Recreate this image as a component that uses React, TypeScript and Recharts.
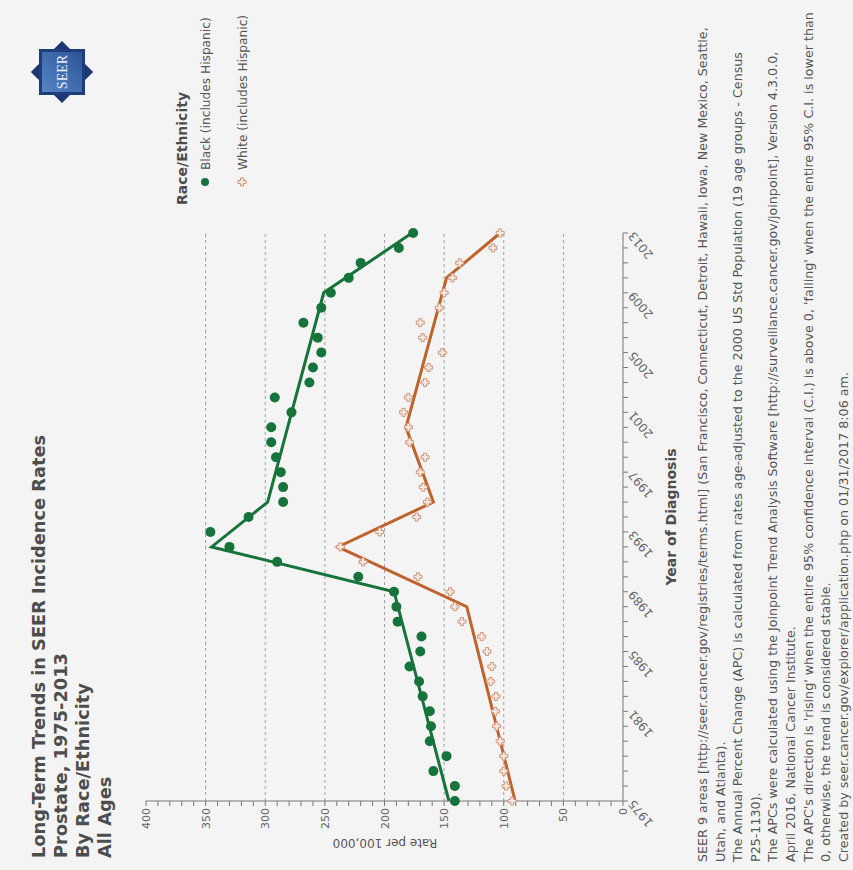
import React from 'react';
import { ComposedChart, Line, XAxis, YAxis, ReferenceLine } from 'recharts';

// Year of diagnosis, one entry per observed rate
const years = [
  1975, 1976, 1977, 1978, 1979, 1980, 1981, 1982, 1983, 1984,
  1985, 1986, 1987, 1988, 1989, 1990, 1991, 1992, 1993, 1994,
  1995, 1996, 1997, 1998, 1999, 2000, 2001, 2002, 2003, 2004,
  2005, 2006, 2007, 2008, 2009, 2010, 2011, 2012, 2013,
];

// Observed rates per 100,000
const blackRates = [
  141, 141, 159, 148, 162, 161, 162, 168, 171, 179,
  170, 169, 189, 190, 192, 222, 290, 330, 346, 314,
  285, 285, 287, 291, 295, 295, 278, 292, 263, 260,
  253, 256, 268, 253, 245, 230, 220, 188, 176,
];
const whiteRates = [
  93, 98, 100, 100, 103, 106, 107, 106.5, 111, 110,
  114, 118.5, 135, 141, 145, 172, 218, 237, 204, 173,
  164, 167.5, 170, 166, 179, 180, 184, 180, 166, 163,
  151.5, 168, 170, 154, 150, 143, 137, 109, 103,
];

// Joinpoint fits: segment end years and fitted rates
const blackFitYears = [1975, 1989, 1992, 1995, 2009, 2013];
const blackFitRates = [146, 192, 345, 298, 251, 177];
const whiteFitYears = [1975, 1988, 1992, 1995, 2000, 2010, 2013];
const whiteFitRates = [90.5, 131, 239, 159, 182, 148, 103];

const yearLabels = [1975, 1981, 1985, 1989, 1993, 1997, 2001, 2005, 2009, 2013];
const rateLabels = [0, 50, 100, 150, 200, 250, 300, 350, 400];
const gridRates = [50, 100, 150, 200, 250, 300, 350];
const rateTicks = Array.from({ length: 41 }, (_, i) => i * 10);

const titleLines = [
  'Long-Term Trends in SEER Incidence Rates',
  'Prostate, 1975-2013',
  'By Race/Ethnicity',
  'All Ages',
];

const notes = [
  'SEER 9 areas [http://seer.cancer.gov/registries/terms.html] (San Francisco, Connecticut, Detroit, Hawaii, Iowa, New Mexico, Seattle,',
  'Utah, and Atlanta).',
  'The Annual Percent Change (APC) is calculated from rates age-adjusted to the 2000 US Std Population (19 age groups - Census',
  'P25-1130).',
  'The APCs were calculated using the Joinpoint Trend Analysis Software [http://surveillance.cancer.gov/joinpoint], Version 4.3.0.0,',
  'April 2016, National Cancer Institute.',
  "The APC's direction is 'rising' when the entire 95% confidence interval (C.I.) is above 0, 'falling' when the entire 95% C.I. is lower than",
  '0, otherwise, the trend is considered stable.',
  'Created by seer.cancer.gov/explorer/application.php on 01/31/2017 8:06 am.',
];

const GREEN = '#16733a';
const ORANGE = '#c0622b';
const WHITE_MARK = '#d39474';
const FONT = '"DejaVu Sans", sans-serif';

const fitValue = (fitYears: number[], fitRates: number[], year: number) => {
  const i = fitYears.indexOf(year);
  return i >= 0 ? fitRates[i] : undefined;
};

const data = years.map((year, i) => ({
  year,
  black: blackRates[i],
  white: whiteRates[i],
  blackFit: fitValue(blackFitYears, blackFitRates, year),
  whiteFit: fitValue(whiteFitYears, whiteFitRates, year),
}));

const plusPath = (cx: number, cy: number, a: number, l: number) =>
  `M${cx - a},${cy - l}H${cx + a}V${cy - a}H${cx + l}V${cy + a}H${cx + a}V${cy + l}` +
  `H${cx - a}V${cy + a}H${cx - l}V${cy - a}H${cx - a}Z`;

const BlackDot = (props: any) => {
  const { cx, cy, index } = props;
  if (cx == null || cy == null) return <g key={`bd-${index}`} />;
  return <circle key={`bd-${index}`} cx={cx} cy={cy} r={5} fill={GREEN} />;
};

const WhiteDot = (props: any) => {
  const { cx, cy, index } = props;
  if (cx == null || cy == null) return <g key={`wd-${index}`} />;
  return (
    <path
      key={`wd-${index}`}
      d={plusPath(cx, cy, 1.5, 4)}
      fill="#f1e9e3"
      stroke={WHITE_MARK}
      strokeWidth={1}
      strokeLinejoin="round"
    />
  );
};

const YearTick = (props: any) => {
  const { x, y, payload } = props;
  if (!yearLabels.includes(payload.value)) return <g />;
  return (
    <g transform={`translate(${x + 2},${y + 4})`}>
      <text textAnchor="end" transform="rotate(-40)" fontSize={12} fill="#666" fontFamily={FONT}>
        {payload.value}
      </text>
    </g>
  );
};

const RateTick = (props: any) => {
  const { x, y, payload } = props;
  if (!rateLabels.includes(payload.value)) return <g />;
  return (
    <text x={x} y={y} dy={4} textAnchor="end" fontSize={11} fill="#666" fontFamily={FONT}>
      {payload.value}
    </text>
  );
};

function Logo({ cx, cy }: { cx: number; cy: number }) {
  return (
    <g>
      <defs>
        <linearGradient id="seerFace" x1="0" y1="0" x2="1" y2="1">
          <stop offset="0%" stopColor="#5584c4" />
          <stop offset="100%" stopColor="#2c5597" />
        </linearGradient>
      </defs>
      <rect x={cx - 22} y={cy - 22} width={44} height={44} fill="#1c3670"
        transform={`rotate(45 ${cx} ${cy})`} />
      <rect x={cx - 23} y={cy - 23} width={46} height={46} fill="#1f3d7c" />
      <rect x={cx - 20} y={cy - 20} width={40} height={40} fill="url(#seerFace)" />
      <text x={cx} y={cy + 5} textAnchor="middle" fontSize={14} fill="#e8eef8"
        fontFamily='"Liberation Serif", serif'>SEER</text>
    </g>
  );
}

function Decorations() {
  return (
    <svg width={870} height={853} style={{ position: 'absolute', left: 0, top: 0, pointerEvents: 'none' }}>
      {titleLines.map((t, i) => (
        <text key={t} x={12} y={45 + i * 22} fontSize={17.8} fontWeight="bold" fill="#4d4d4d" fontFamily={FONT}>
          {t}
        </text>
      ))}

      <Logo cx={798} cy={62} />

      <text x={665} y={187} fontSize={14} fontWeight="bold" fill="#4d4d4d" fontFamily={FONT}>
        Race/Ethnicity
      </text>
      <circle cx={688} cy={205} r={4} fill={GREEN} />
      <text x={700} y={209.5} fontSize={12.2} fill="#555" fontFamily={FONT}>
        Black (includes Hispanic)
      </text>
      <path d={plusPath(688, 242, 1.5, 4)} fill="#f1e9e3" stroke={WHITE_MARK} strokeWidth={1} />
      <text x={700} y={246.5} fontSize={12.2} fill="#555" fontFamily={FONT}>
        White (includes Hispanic)
      </text>

      <text transform="translate(27,385) rotate(-90)" textAnchor="middle" dominantBaseline="central"
        fontSize={12} fill="#555" fontFamily={FONT}>
        Rate per 100,000
      </text>
      <text x={353} y={676} textAnchor="middle" fontSize={14} fontWeight="bold" fill="#4d4d4d" fontFamily={FONT}>
        Year of Diagnosis
      </text>

      {notes.map((n, i) => (
        <text key={i} x={8} y={707 + i * 17.6} fontSize={12.7} fill="#555" fontFamily={FONT}>
          {n}
        </text>
      ))}
    </svg>
  );
}

export default function App() {
  return (
    <div style={{ position: 'absolute', left: 0, top: 0, width: 853, height: 870, background: '#f4f4f4', overflow: 'hidden' }}>
      <div
        style={{
          position: 'absolute',
          left: 0,
          top: 0,
          width: 870,
          height: 853,
          transformOrigin: '0 0',
          transform: 'translate(0px, 870px) rotate(-90deg)',
        }}
      >
        <ComposedChart width={870} height={853} data={data} margin={{ top: 146, right: 233, bottom: 200, left: 9 }}>
          <XAxis
            type="number"
            dataKey="year"
            domain={[1975, 2013]}
            ticks={years}
            interval={0}
            tick={<YearTick />}
            tickSize={5}
            height={30}
            stroke="#777"
          />
          <YAxis
            type="number"
            domain={[0, 400]}
            ticks={rateTicks}
            interval={0}
            tick={<RateTick />}
            tickSize={5}
            width={60}
            stroke="#777"
          />
          {gridRates.map((r) => (
            <ReferenceLine key={r} y={r} stroke="#a0a0a0" strokeDasharray="3 3" />
          ))}
          <Line dataKey="black" stroke="none" dot={BlackDot} activeDot={false} isAnimationActive={false} />
          <Line dataKey="white" stroke="none" dot={WhiteDot} activeDot={false} isAnimationActive={false} />
          <Line type="linear" dataKey="blackFit" stroke={GREEN} strokeWidth={3} dot={false} connectNulls isAnimationActive={false} />
          <Line type="linear" dataKey="whiteFit" stroke={ORANGE} strokeWidth={3} dot={false} connectNulls isAnimationActive={false} />
        </ComposedChart>
        <Decorations />
      </div>
    </div>
  );
}
